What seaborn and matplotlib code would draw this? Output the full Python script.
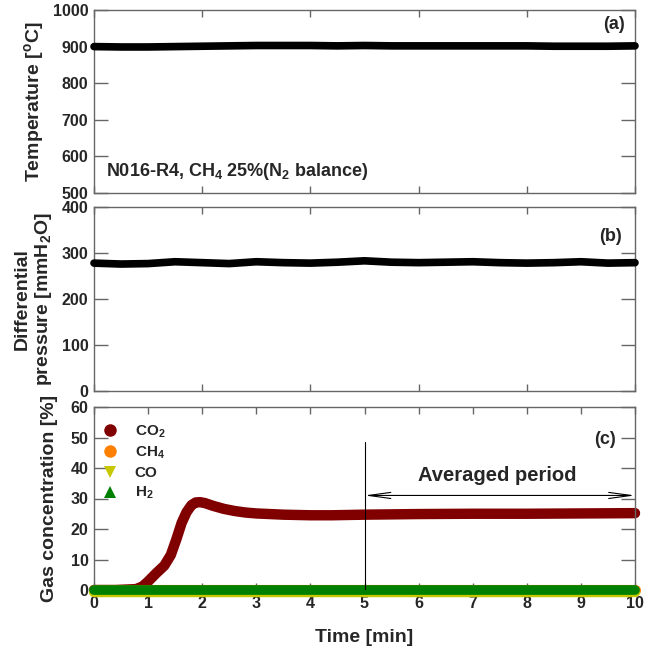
import numpy as np
import pandas as pd
import matplotlib
matplotlib.use("Agg")
import matplotlib.pyplot as plt
from matplotlib.lines import Line2D
from matplotlib.transforms import ScaledTranslation
import seaborn as sns

# ---- data -------------------------------------------------------------
temp_time = [0, 0.5, 1, 1.5, 2, 2.5, 3, 3.5, 4, 4.5, 5, 5.5, 6, 6.5, 7, 7.5, 8, 8.5, 9, 9.5, 10]
temperature = [900, 899, 899, 900, 901, 902, 903, 903, 903, 902, 903, 902, 902, 902, 902, 902, 902, 901, 901, 901, 902]

press_time = [0, 0.5, 1, 1.5, 2, 2.5, 3, 3.5, 4, 4.5, 5, 5.5, 6, 6.5, 7, 7.5, 8, 8.5, 9, 9.5, 10]
pressure = [278, 276, 277, 281, 279, 277, 281, 279, 278, 280, 283, 280, 279, 280, 281, 279, 278, 279, 281, 278, 279]

co2_time = [0, 0.4, 0.78, 0.9, 1.0, 1.15, 1.3, 1.42, 1.52, 1.62, 1.71, 1.8, 1.88, 1.96,
            2.05, 2.2, 2.4, 2.6, 2.8, 3.0, 3.5, 4.0, 4.4, 5.0, 6.0, 7.0, 8.0, 9.0, 10.0]
co2 = [0, 0, 0.3, 1.2, 2.8, 5.5, 8.0, 11.5, 16.5, 22.0, 25.5, 27.8, 28.7, 28.8,
       28.5, 27.6, 26.6, 25.9, 25.4, 25.1, 24.7, 24.5, 24.5, 24.7, 24.9, 25.0, 25.0, 25.1, 25.2]

gas_time = [0, 1, 2, 3, 4, 5, 6, 7, 8, 9, 10]
ch4 = [0, 0, 0, 0, 0, 0, 0, 0, 0, 0, 0]
co = [0, 0, 0, 0, 0, 0, 0, 0, 0, 0, 0]
h2 = [0, 0, 0, 0, 0, 0, 0, 0, 0, 0, 0]

gas_labels = ["CO$_2$", "CH$_4$", "CO", "H$_2$"]
gas_colors = ["#800000", "#ff8000", "#c8c800", "#008000"]
gas_markers = ["o", "o", "v", "^"]

# ---- style ------------------------------------------------------------
sns.set_style("ticks")
plt.rcParams["font.family"] = ["Liberation Sans", "DejaVu Sans"]
plt.rcParams["font.weight"] = "bold"
plt.rcParams["axes.labelweight"] = "bold"
plt.rcParams["mathtext.fontset"] = "custom"
plt.rcParams["mathtext.rm"] = "Liberation Sans:bold"
plt.rcParams["mathtext.bf"] = "Liberation Sans:bold"
plt.rcParams["mathtext.it"] = "Liberation Sans:bold"
plt.rcParams["mathtext.default"] = "bf"

SPINE = "#666666"

fig = plt.figure(figsize=(6.53, 6.54), dpi=100)
W, H = 653, 654


def rect(left, top, right, bottom):
    return [left / W, 1 - bottom / H, (right - left) / W, (bottom - top) / H]


ax_a = fig.add_axes(rect(94, 10, 635, 193))
ax_b = fig.add_axes(rect(94, 207, 635, 391))
ax_c = fig.add_axes(rect(94, 407, 635, 590))


def band(ax, x, y, color, lw, zorder=3, dy_px=0.0):
    df = pd.DataFrame({"x": x, "y": y})
    before = len(ax.lines)
    sns.lineplot(data=df, x="x", y="y", ax=ax, color=color, linewidth=lw,
                 solid_capstyle="round", solid_joinstyle="round",
                 estimator=None, sort=True, legend=False, zorder=zorder)
    for ln in ax.lines[before:]:
        ln.set_clip_on(False)
        if dy_px:
            ln.set_transform(ax.transData +
                             ScaledTranslation(0, dy_px / 100, fig.dpi_scale_trans))


def style_axes(ax, major_x, ylim, yticks, show_xlabels):
    ax.set_xlim(0, 10)
    ax.set_ylim(*ylim)
    ax.set_xticks(np.arange(0, 10.01, major_x))
    ax.set_yticks(yticks)
    ax.tick_params(axis="both", direction="in", top=True, right=True,
                   color=SPINE, width=1.0, labelsize=11.5, pad=4)
    ax.tick_params(axis="x", length=5)
    ax.tick_params(axis="y", length=10)
    if not show_xlabels:
        ax.tick_params(axis="x", labelbottom=False)
    for s in ax.spines.values():
        s.set_color(SPINE)
        s.set_linewidth(1.0)
    for lab in ax.get_xticklabels() + ax.get_yticklabels():
        lab.set_fontweight("bold")
    ax.set_xlabel("")
    ax.set_ylabel("")


# (a) temperature
band(ax_a, temp_time, temperature, "black", 5.5)
style_axes(ax_a, 2, (500, 1000), range(500, 1001, 100), False)
ax_a.text(0.982, 0.92, "(a)", transform=ax_a.transAxes, ha="right", va="center",
          fontsize=13, fontweight="bold")
ax_a.text(0.022, 0.12, "N016-R4, CH$_4$ 25%(N$_2$ balance)", transform=ax_a.transAxes,
          ha="left", va="center", fontsize=13, fontweight="bold")

# (b) differential pressure
band(ax_b, press_time, pressure, "black", 5.5)
style_axes(ax_b, 2, (0, 400), range(0, 401, 100), False)
ax_b.text(0.975, 0.84, "(b)", transform=ax_b.transAxes, ha="right", va="center",
          fontsize=13, fontweight="bold")

# (c) gas concentration
band(ax_c, gas_time, ch4, gas_colors[1], 8.0, zorder=3)
band(ax_c, gas_time, co, gas_colors[2], 7.5, zorder=4, dy_px=-2.0)
band(ax_c, gas_time, h2, gas_colors[3], 7.0, zorder=5)
band(ax_c, co2_time, co2, gas_colors[0], 7.5, zorder=2)
style_axes(ax_c, 1, (0, 60), range(0, 61, 10), True)

ax_c.plot([5, 5], [0, 48.5], color="black", lw=0.8, zorder=7)
ax_c.annotate("", xy=(10, 31), xytext=(5, 31),
              arrowprops=dict(arrowstyle="<->,head_length=1.6,head_width=0.22",
                              color="black", lw=0.8, shrinkA=0, shrinkB=0))
ax_c.text(7.45, 37.7, "Averaged period", ha="center", va="center",
          fontsize=14.5, fontweight="bold")
ax_c.text(9.65, 49.5, "(c)", ha="right", va="center", fontsize=13, fontweight="bold")

handles = [Line2D([], [], linestyle="none", marker=m, color=c, markersize=9,
                  markeredgewidth=0)
           for m, c in zip(gas_markers, gas_colors)]
ax_c.legend(handles, gas_labels, loc="upper left", bbox_to_anchor=(-0.012, 0.985),
            frameon=False, prop={"size": 11, "weight": "bold"},
            labelspacing=0.32, handletextpad=1.0, handlelength=1.2)

# axis titles
fig.text(34.5 / W, 1 - 101.5 / H, "Temperature [$^o$C]", rotation=90,
         ha="center", va="center", fontsize=14, fontweight="bold")
fig.text(33.5 / W, 1 - 299 / H, "Differential\npressure [mmH$_2$O]", rotation=90,
         ha="center", va="center", fontsize=14, fontweight="bold",
         multialignment="center", linespacing=1.15)
fig.text(50 / W, 1 - 498.5 / H, "Gas concentration [%]", rotation=90,
         ha="center", va="center", fontsize=14, fontweight="bold")
fig.text(364 / W, 1 - 637 / H, "Time [min]", ha="center", va="center",
         fontsize=14, fontweight="bold")

fig.savefig("out.png", dpi=100)
